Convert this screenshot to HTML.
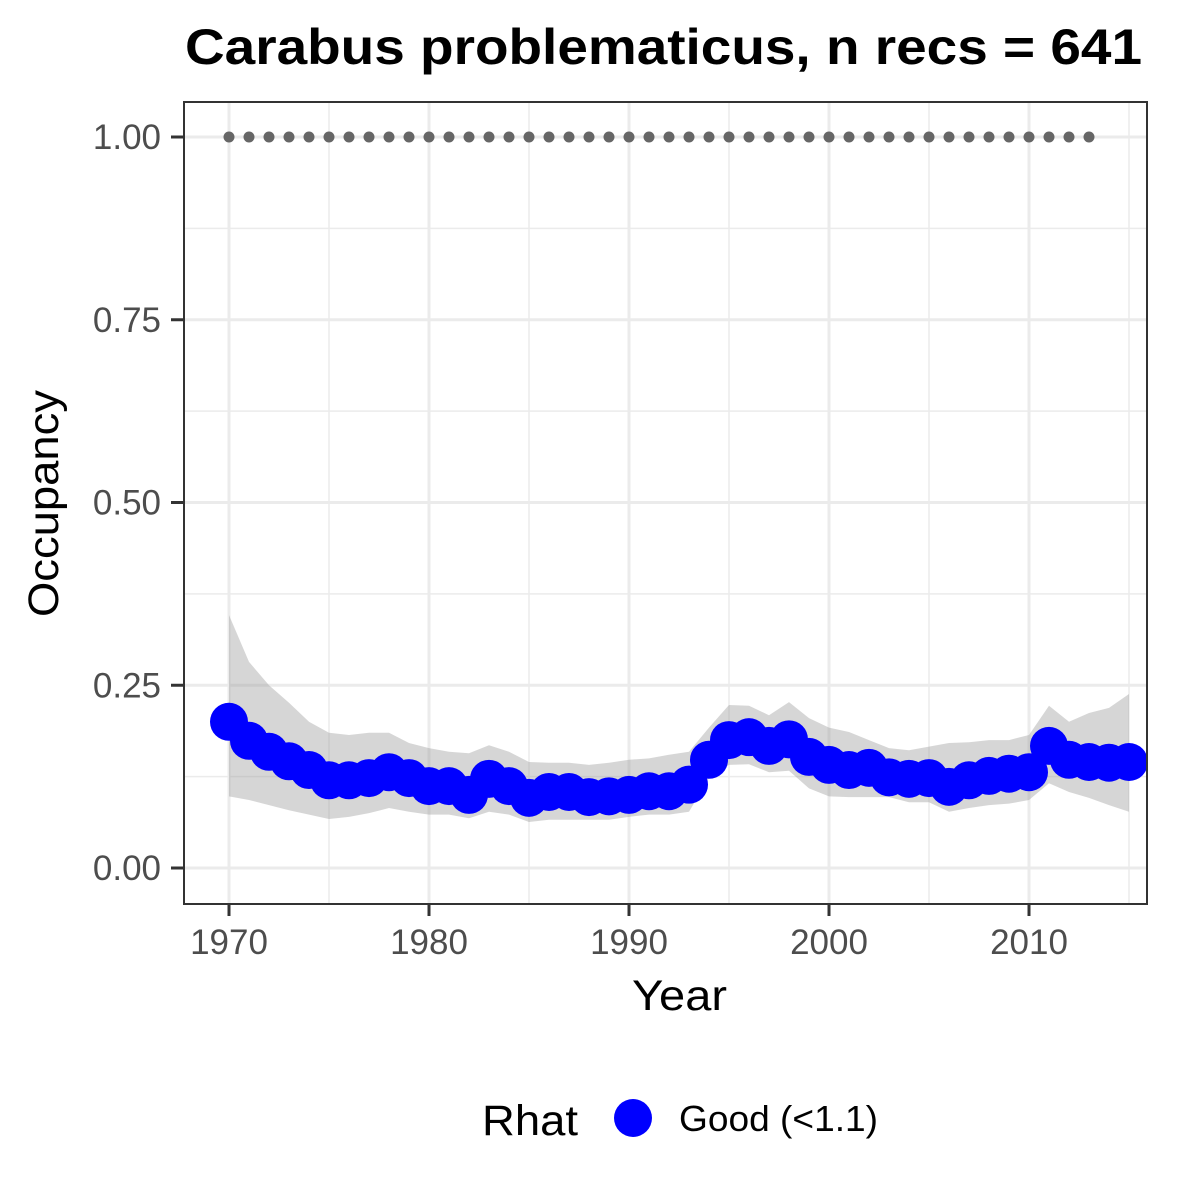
<!DOCTYPE html>
<html><head><meta charset="utf-8"><style>
html,body{margin:0;padding:0;background:#fff;}
svg{display:block;font-family:"Liberation Sans",Arial,sans-serif;}
</style></head><body>
<svg id="chart" width="1200" height="1200" viewBox="0 0 1200 1200" xmlns="http://www.w3.org/2000/svg">
<rect x="0" y="0" width="1200" height="1200" fill="#fff"/>
<text x="185" y="64" textLength="957" lengthAdjust="spacingAndGlyphs" font-size="50" font-weight="bold" fill="#000">Carabus problematicus, n recs = 641</text>
<g id="grid"></g>
<g id="band"></g>
<g id="dots"></g>
<g id="pts"></g>
<rect x="184" y="102" width="963" height="802" fill="none" stroke="#333" stroke-width="2"/>
<g id="axes"></g>
<text x="632" y="1010" textLength="95" lengthAdjust="spacingAndGlyphs" font-size="43" fill="#000">Year</text>
<text transform="translate(58,617) rotate(-90)" textLength="227" lengthAdjust="spacingAndGlyphs" font-size="43" fill="#000">Occupancy</text>
<g>
<text x="482" y="1135" textLength="96" lengthAdjust="spacingAndGlyphs" font-size="43" fill="#000">Rhat</text>
<circle cx="633" cy="1118" r="19" fill="#0000ff"/>
<text x="679" y="1131" textLength="199" lengthAdjust="spacingAndGlyphs" font-size="36" fill="#000">Good (&lt;1.1)</text>
</g>
</svg>
<script>
const years = [1970,1971,1972,1973,1974,1975,1976,1977,1978,1979,1980,1981,1982,1983,1984,1985,1986,1987,1988,1989,1990,1991,1992,1993,1994,1995,1996,1997,1998,1999,2000,2001,2002,2003,2004,2005,2006,2007,2008,2009,2010,2011,2012,2013,2014,2015];
const meanOcc = [.200,.174,.159,.146,.134,.120,.120,.123,.131,.123,.112,.112,.100,.122,.112,.096,.104,.104,.097,.098,.100,.105,.105,.114,.148,.175,.179,.167,.176,.152,.141,.134,.137,.124,.122,.123,.111,.120,.126,.129,.131,.167,.148,.145,.144,.145];
const upperOcc = [.346,.282,.250,.226,.200,.185,.182,.185,.185,.171,.164,.159,.157,.168,.159,.145,.144,.144,.141,.144,.148,.150,.155,.159,.192,.223,.222,.209,.227,.205,.192,.186,.175,.164,.161,.166,.171,.172,.175,.175,.182,.222,.200,.212,.219,.238];
const lowerOcc = [.098,.093,.086,.079,.073,.067,.070,.075,.082,.077,.073,.073,.068,.077,.073,.063,.066,.066,.066,.066,.070,.073,.073,.077,.123,.141,.142,.131,.133,.109,.098,.097,.097,.097,.090,.090,.077,.082,.086,.088,.093,.116,.104,.096,.086,.077];
const refYears = [1970,1971,1972,1973,1974,1975,1976,1977,1978,1979,1980,1981,1982,1983,1984,1985,1986,1987,1988,1989,1990,1991,1992,1993,1994,1995,1996,1997,1998,1999,2000,2001,2002,2003,2004,2005,2006,2007,2008,2009,2010,2011,2012,2013];
const refValues = refYears.map(() => 1);
const yTicks = [0, 0.25, 0.5, 0.75, 1];
const yTickLabels = ["0.00","0.25","0.50","0.75","1.00"];
const xTicks = [1970,1980,1990,2000,2010];
const xTickLabels = ["1970","1980","1990","2000","2010"];

const NS = "http://www.w3.org/2000/svg";
const X = y => 229 + (y - 1970) * 20;
const Y = v => 868 - v * 731;
function mk(tag, attrs, parent){const e=document.createElementNS(NS,tag);for(const k in attrs)e.setAttribute(k,attrs[k]);parent.appendChild(e);return e;}

const grid = document.getElementById('grid');
for (let v = 0.125; v < 1.1; v += 0.25) {
  const l = mk('line',{x1:185,x2:1146,y1:Y(v),y2:Y(v),stroke:'#ebebeb','stroke-width':1.5},grid);
  
  
}
for (let yr = 1975; yr <= 2015; yr += 10) {
  const l = mk('line',{x1:X(yr),x2:X(yr),y1:103,y2:903,stroke:'#ebebeb','stroke-width':1.5},grid);
  
  
}
yTicks.forEach(v => {
  const l = mk('line',{x1:185,x2:1146,y1:Y(v),y2:Y(v),stroke:'#ebebeb','stroke-width':3},grid);
  
  
});
xTicks.forEach(yr => {
  const l = mk('line',{x1:X(yr),x2:X(yr),y1:103,y2:903,stroke:'#ebebeb','stroke-width':3},grid);
  
  
});

const band = document.getElementById('band');
let d = '';
years.forEach((yr,i) => { d += (i? 'L':'M') + X(yr) + ',' + Y(upperOcc[i]); });
for (let i = years.length-1; i >= 0; i--) d += 'L' + X(years[i]) + ',' + Y(lowerOcc[i]);
const bp = mk('path',{d:d+'Z',fill:'#999','fill-opacity':0.4},band);



const dots = document.getElementById('dots');
refYears.forEach((yr,i) => {
  const c = mk('circle',{cx:X(yr),cy:Y(refValues[i]),r:5.5,fill:'#666'},dots);
  
  
});

const pts = document.getElementById('pts');
years.forEach((yr,i) => {
  const c = mk('circle',{cx:X(yr),cy:Y(meanOcc[i]),r:19,fill:'#0000ff'},pts);
  
  
});

const axes = document.getElementById('axes');
yTicks.forEach((v,i) => {
  const t = mk('line',{x1:171,x2:184,y1:Y(v),y2:Y(v),stroke:'#333','stroke-width':3},axes);
  
  
  const tx = mk('text',{x:161,y:Y(v)+12,'text-anchor':'end','font-size':35,fill:'#4d4d4d'},axes);
  tx.textContent = yTickLabels[i];
  
  
});
xTicks.forEach((yr,i) => {
  const t = mk('line',{x1:X(yr),x2:X(yr),y1:904,y2:916,stroke:'#333','stroke-width':3},axes);
  
  
  const tx = mk('text',{x:X(yr),y:954,'text-anchor':'middle','font-size':35,fill:'#4d4d4d'},axes);
  tx.textContent = xTickLabels[i];
  
  
});
</script>
</body></html>
